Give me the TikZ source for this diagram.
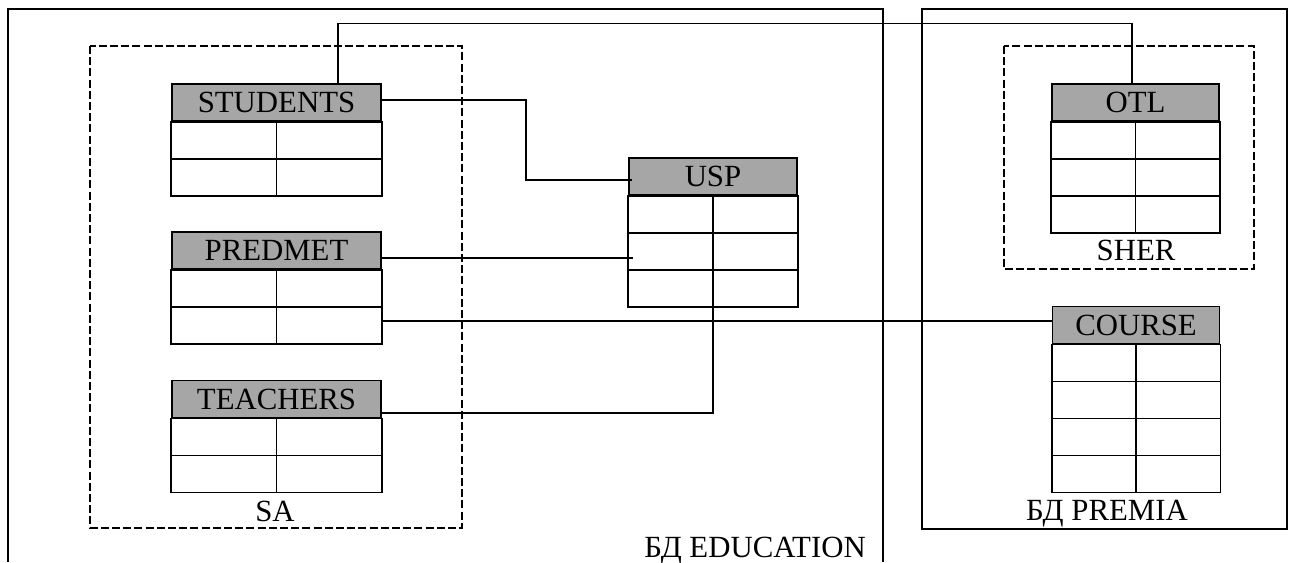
\documentclass[tikz,border=0pt]{standalone}
\usepackage{fontspec}
\setmainfont{Liberation Serif}

\tikzset{
  box/.style={line width=1pt},
  group/.style={line width=1pt, dash pattern=on 4pt off 1.6pt},
  hdr/.style={draw, fill=black!35, line width=0.9pt, minimum height=18.5pt,
    inner sep=0pt, font=\fontsize{15.4}{18}\selectfont},
  tbl/.style={line width=0.9pt},
  link/.style={line width=0.6pt},
  lbl/.style={font=\fontsize{15.4}{18}\selectfont, inner sep=0pt, anchor=base}
}

% empty rows under a table header: #1 = header node, #2 = number of rows
\newcommand{\tblrows}[2]{%
  \draw[tbl] (#1.south west) rectangle ([yshift={-#2*18.5pt}]#1.south east);
  \draw[tbl] (#1.south) -- ([yshift={-#2*18.5pt}]#1.south);
  \foreach \r in {1,...,#2}
    \draw[tbl] ([yshift={-\r*18.5pt}]#1.south west) -- ([yshift={-\r*18.5pt}]#1.south east);
}

\begin{document}
\begin{tikzpicture}[x=0.5pt,y=-0.5pt]
    \useasboundingbox (0,0) rectangle (1289,562);
    % databases
    \draw[box] (8,562) -- (8,9) -- (883,9) -- (883,562);
    \draw[box] (922,9) rectangle (1287,529);
    \node[lbl] (edu) at (755,557) {БД EDUCATION};
    \node[lbl] (premia) at (1107,520) {БД PREMIA};
    % schemas
    \draw[group] (90,46) rectangle (462,528);
    \draw[group] (1004,46) rectangle (1254,269);
    \node[lbl] (sa) at (275,521) {SA};
    \node[lbl] (sher) at (1136,260) {SHER};
    % tables
    \node[hdr, minimum width=104.5pt] (students) at (276.5,102.5) {STUDENTS};
    \tblrows{students}{2}
    \node[hdr, minimum width=104.5pt] (predmet) at (276.5,250.5) {PREDMET};
    \tblrows{predmet}{2}
    \node[hdr, minimum width=104.5pt] (teachers) at (276.5,399) {TEACHERS};
    \tblrows{teachers}{2}
    \node[hdr, minimum width=84pt] (usp) at (713,176.5) {USP};
    \tblrows{usp}{3}
    \node[hdr, minimum width=83.5pt] (otl) at (1135.5,102.5) {OTL};
    \tblrows{otl}{3}
    \node[hdr, minimum width=83.5pt] (course) at (1136,325) {COURSE};
    \tblrows{course}{4}
    % links
    \draw[link] ([xshift=30.75pt]students.north) -- ++(0,-60) -| ([xshift=-1.75pt]otl.north);
    \draw[link] ([yshift=1.25pt]students.east) -- ++(144,0) |- ([xshift=2pt,yshift=-1.75pt]usp.west);
    \draw[link] ([yshift=-3.75pt]predmet.east) coordinate (p1) -- ([xshift=2.5pt]p1 -| usp.west);
    \draw[link] ([yshift=-25.5pt]predmet.south east) coordinate (p2) -- (p2 -| course.west);
    \draw[link] ([yshift=-7pt]teachers.east) -| ([yshift=-54pt]usp.south);
\end{tikzpicture}
\end{document}
